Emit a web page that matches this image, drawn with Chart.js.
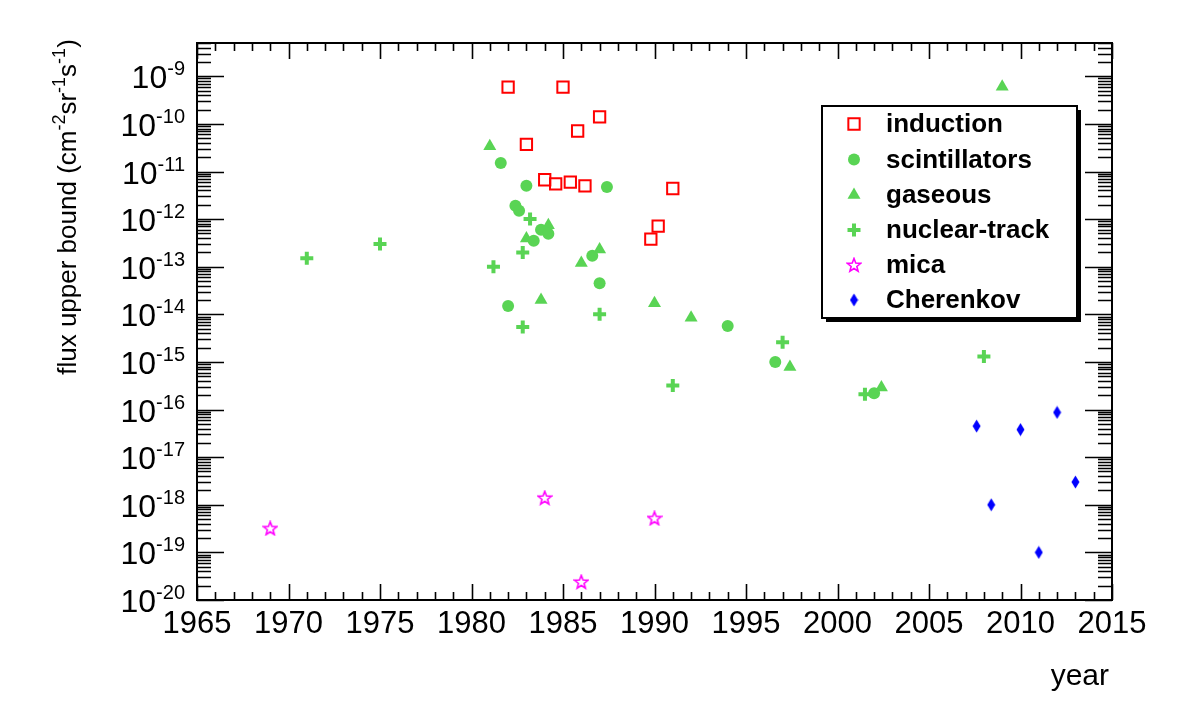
<!DOCTYPE html>
<html>
<head>
<meta charset="utf-8">
<script src="https://cdn.jsdelivr.net/npm/chart.js@4/dist/chart.umd.min.js"></script>
<style>
  html, body { margin: 0; padding: 0; background: #fff; }
  #wrap { width: 1182px; height: 721px; position: relative; }
</style>
</head>
<body>
<div id="wrap"><canvas id="c"></canvas></div>
<script>
// values
const inductionYear = [1982.0, 1985.0, 1987.0, 1985.8, 1983.0, 1984.0, 1984.6, 1985.4, 1986.2, 1991.0, 1990.2, 1989.8];
const inductionFlux = [5.9e-10, 5.9e-10, 1.4e-10, 7.1e-11, 3.7e-11, 6.7e-12, 5.5e-12, 6.0e-12, 5.0e-12, 4.4e-12, 7.1e-13, 3.8e-13];

const scintYear = [1981.6, 1983.0, 1987.4, 1982.4, 1982.6, 1983.8, 1984.2, 1983.4, 1986.6, 1987.0, 1982.0, 1994.0, 1996.6, 2002.0];
const scintFlux = [1.5e-11, 5.0e-12, 4.7e-12, 1.9e-12, 1.5e-12, 6.0e-13, 4.9e-13, 3.5e-13, 1.7e-13, 4.5e-14, 1.5e-14, 5.7e-15, 1.0e-15, 2.2e-16];

const gasYear = [1981.0, 1984.2, 1983.0, 1987.0, 1986.0, 1983.8, 1990.0, 1992.0, 1997.4, 2002.4, 2009.0];
const gasFlux = [3.4e-11, 7.4e-13, 3.9e-13, 2.3e-13, 1.2e-13, 2.0e-14, 1.7e-14, 8.5e-15, 7.8e-16, 2.9e-16, 6.0e-10];

const trackYear = [1971.0, 1975.0, 1983.2, 1982.8, 1981.2, 1982.8, 1987.0, 1991.0, 1997.0, 2001.5, 2008.0];
const trackFlux = [1.5e-13, 3.0e-13, 1.0e-12, 2.0e-13, 1.0e-13, 5.4e-15, 1.0e-14, 3.2e-16, 2.6e-15, 2.1e-16, 1.3e-15];

const micaYear = [1969.0, 1984.0, 1986.0, 1990.0];
const micaFlux = [3.2e-19, 1.4e-18, 2.4e-20, 5.2e-19];

const cherYear = [2007.6, 2008.4, 2010.0, 2011.0, 2012.0, 2013.0];
const cherFlux = [4.5e-17, 1.0e-18, 3.8e-17, 1.0e-19, 8.7e-17, 3.0e-18];

const xTickLabels = [1965, 1970, 1975, 1980, 1985, 1990, 1995, 2000, 2005, 2010, 2015];
const yExponents = [-20, -19, -18, -17, -16, -15, -14, -13, -12, -11, -10, -9];

const GREEN = '#59d454';
const FONT = '"Liberation Sans", Arial, Helvetica, sans-serif';

function pts(xs, ys) {
  return xs.map((x, i) => ({ x, y: ys[i] }));
}

// open five-pointed star, like ROOT marker 30
function makeStar(color) {
  const c = document.createElement('canvas');
  c.width = 16; c.height = 16;
  const g = c.getContext('2d');
  g.strokeStyle = color;
  g.lineWidth = 1.6;
  g.beginPath();
  for (let i = 0; i < 10; i++) {
    const r = i % 2 === 0 ? 7 : 3;
    const a = -Math.PI / 2 + i * Math.PI / 5;
    const px = 8 + r * Math.cos(a), py = 8.5 + r * Math.sin(a);
    if (i === 0) g.moveTo(px, py); else g.lineTo(px, py);
  }
  g.closePath();
  g.stroke();
  return c;
}

// narrow diamond
function makeDiamond(color) {
  const c = document.createElement('canvas');
  c.width = 9; c.height = 14;
  const g = c.getContext('2d');
  g.fillStyle = color;
  g.beginPath();
  g.moveTo(4.5, 0.5); g.lineTo(8.5, 7); g.lineTo(4.5, 13.5); g.lineTo(0.5, 7);
  g.closePath();
  g.fill();
  return c;
}

const datasets = [
  { label: 'induction', data: pts(inductionYear, inductionFlux), pointStyle: 'rect', pointRadius: 8,
    backgroundColor: 'rgba(0,0,0,0)', borderColor: '#ff0000', borderWidth: 2 },
  { label: 'scintillators', data: pts(scintYear, scintFlux), pointStyle: 'circle', pointRadius: 6,
    backgroundColor: GREEN, borderColor: GREEN, borderWidth: 0 },
  { label: 'gaseous', data: pts(gasYear, gasFlux), pointStyle: 'triangle', pointRadius: 7.5,
    backgroundColor: GREEN, borderColor: GREEN, borderWidth: 0 },
  { label: 'nuclear-track', data: pts(trackYear, trackFlux), pointStyle: 'cross', pointRadius: 6.5,
    backgroundColor: GREEN, borderColor: GREEN, borderWidth: 4 },
  { label: 'mica', data: pts(micaYear, micaFlux), pointStyle: makeStar('#ff00ff'), pointRadius: 8,
    backgroundColor: '#ff00ff', borderColor: '#ff00ff', borderWidth: 0 },
  { label: 'Cherenkov', data: pts(cherYear, cherFlux), pointStyle: makeDiamond('#0000ff'), pointRadius: 7,
    backgroundColor: '#0000ff', borderColor: '#0000ff', borderWidth: 0 }
];

// draw text pieces, some of them raised as superscripts
function drawPieces(ctx, pieces, x, y, baseSize, supSize, supRise) {
  let cx = x;
  for (const p of pieces) {
    ctx.font = (p.sup ? supSize : baseSize) + 'px ' + FONT;
    ctx.fillText(p.t, cx, p.sup ? y - supRise : y);
    cx += ctx.measureText(p.t).width;
  }
  return cx - x;
}
function measurePieces(ctx, pieces, baseSize, supSize) {
  let w = 0;
  for (const p of pieces) {
    ctx.font = (p.sup ? supSize : baseSize) + 'px ' + FONT;
    w += ctx.measureText(p.t).width;
  }
  return w;
}

const rootStyle = {
  id: 'rootStyle',
  afterDatasetsDraw(chart) {
    const ctx = chart.ctx;
    const a = chart.chartArea;
    const xs = chart.scales.x, ys = chart.scales.y;
    ctx.save();
    ctx.strokeStyle = '#000';
    ctx.fillStyle = '#000';

    // frame
    ctx.lineWidth = 2;
    ctx.strokeRect(a.left, a.top, a.right - a.left, a.bottom - a.top);

    // x ticks, bottom and top
    ctx.lineWidth = 1.6;
    ctx.beginPath();
    for (let yr = xs.min; yr <= xs.max; yr++) {
      const px = Math.round(xs.getPixelForValue(yr)) + 0.5;
      const len = yr % 5 === 0 ? 16 : 8;
      ctx.moveTo(px, a.bottom); ctx.lineTo(px, a.bottom - len);
      ctx.moveTo(px, a.top); ctx.lineTo(px, a.top + len);
    }
    // y ticks, left and right
    for (const e of yExponents) {
      for (let k = 1; k <= 9; k++) {
        const v = k * Math.pow(10, e);
        if (v < ys.min * 0.999 || v > ys.max * 1.001) continue;
        const py = Math.round(ys.getPixelForValue(v)) + 0.5;
        const len = k === 1 ? 27 : 14;
        ctx.moveTo(a.left, py); ctx.lineTo(a.left + len, py);
        ctx.moveTo(a.right, py); ctx.lineTo(a.right - len, py);
      }
    }
    ctx.stroke();

    // x tick labels
    ctx.font = '31px ' + FONT;
    ctx.textAlign = 'center';
    ctx.textBaseline = 'alphabetic';
    for (const t of xTickLabels) {
      ctx.fillText(String(t), xs.getPixelForValue(t), a.bottom + 33);
    }

    // y tick labels 10^e
    ctx.textAlign = 'left';
    for (const e of yExponents) {
      const py = ys.getPixelForValue(Math.pow(10, e));
      const pieces = [{ t: '10' }, { t: String(e), sup: true }];
      const w = measurePieces(ctx, pieces, 32, 20);
      drawPieces(ctx, pieces, 185 - w, py + 12, 32, 20, 13);
    }

    // axis titles
    ctx.font = '30px ' + FONT;
    ctx.textAlign = 'right';
    ctx.fillText('year', 1109, 685);

    const title = [
      { t: 'flux upper bound (cm' }, { t: '-2', sup: true }, { t: 'sr' }, { t: '-1', sup: true },
      { t: 's' }, { t: '-1', sup: true }, { t: ')' }
    ];
    ctx.textAlign = 'left';
    const tw = measurePieces(ctx, title, 26, 18);
    ctx.save();
    ctx.translate(76, 207);
    ctx.rotate(-Math.PI / 2);
    drawPieces(ctx, title, -tw / 2, 0, 26, 18, 11);
    ctx.restore();

    // legend box with shadow
    const L = 822, T = 106, R = 1077, B = 318;
    ctx.fillRect(L + 4, T + 4, R - L, B - T);
    ctx.fillStyle = '#fff';
    ctx.fillRect(L, T, R - L, B - T);
    ctx.lineWidth = 2;
    ctx.strokeRect(L, T, R - L, B - T);

    const rowY = [124, 159.5, 195, 230, 265, 300];
    chart.data.datasets.forEach((ds, i) => {
      const my = rowY[i];
      ctx.fillStyle = ds.backgroundColor;
      ctx.strokeStyle = ds.borderColor;
      ctx.lineWidth = ds.borderWidth;
      Chart.helpers.drawPoint(ctx, {
        pointStyle: ds.pointStyle, radius: ds.pointRadius, rotation: 0, borderWidth: ds.borderWidth
      }, 854, my);
      ctx.fillStyle = '#000';
      ctx.font = 'bold 26px ' + FONT;
      ctx.textAlign = 'left';
      ctx.textBaseline = 'middle';
      ctx.fillText(ds.label, 886, my + 1);
    });
    ctx.restore();
  }
};

new Chart(document.getElementById('c'), {
  type: 'scatter',
  data: { datasets },
  options: {
    responsive: true,
    maintainAspectRatio: false,
    animation: false,
    layout: { padding: { left: 197, right: 70, top: 43, bottom: 121 } },
    plugins: { legend: { display: false }, tooltip: { enabled: false } },
    scales: {
      x: { type: 'linear', min: 1965, max: 2015, display: false },
      y: { type: 'logarithmic', min: 1e-20, max: 5e-9, display: false }
    }
  },
  plugins: [rootStyle]
});
</script>
</body>
</html>
